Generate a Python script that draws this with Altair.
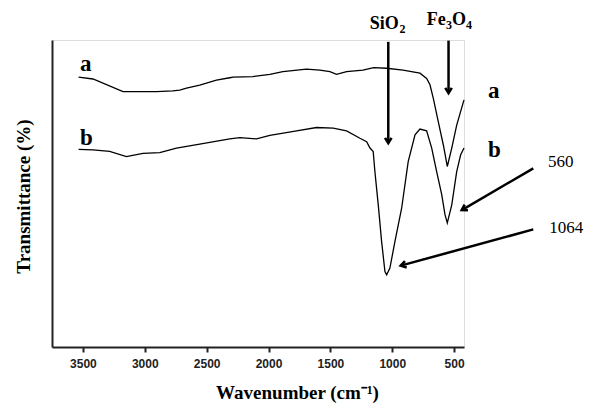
import math
import altair as alt
import pandas as pd

# ---- spectra (wavenumber cm-1, transmittance in arbitrary % units) ----
a_wn = [3535, 3419, 3176, 2906, 2774, 2718, 2663, 2556, 2421, 2313, 2286, 2127, 1989, 1884, 1693,
        1585, 1504, 1450, 1369, 1237, 1150, 1045, 913, 776, 722, 695, 668, 628, 587, 555, 519, 479, 420]
a_t = [87.9, 87.3, 83.2, 83.2, 83.4, 83.7, 84.3, 85.3, 86.9, 87.7, 87.9, 88.1, 88.8, 89.7, 90.5,
       90.2, 89.7, 88.8, 89.7, 90.2, 91.0, 90.8, 90.2, 89.2, 87.5, 85.4, 81.0, 73.4, 65.8, 58.8, 64.8, 72.3, 80.5]

b_wn = [3535, 3419, 3284, 3149, 3015, 2879, 2744, 2556, 2313, 2232, 2097, 1989, 1773, 1612, 1477,
        1369, 1261, 1207, 1180, 1154, 1140, 1113, 1086, 1059, 1045, 1019, 978, 924, 871, 816,
        776, 722, 681, 641, 600, 574, 555, 519, 479, 447, 420]
b_t = [64.4, 64.2, 63.7, 62.0, 63.1, 63.3, 64.8, 66.1, 67.8, 68.2, 67.8, 68.9, 70.4, 71.5, 71.3,
       70.4, 68.0, 66.9, 64.8, 63.7, 57.1, 46.3, 34.4, 24.6, 23.5, 25.7, 34.4, 45.2, 60.4, 69.1,
       71.0, 70.4, 64.8, 57.1, 49.6, 43.2, 40.4, 46.3, 57.1, 62.6, 64.8]

x_ticks = [3500, 3000, 2500, 2000, 1500, 1000, 500]
X_DOMAIN = [3750, 420]
Y_DOMAIN = [0, 100]
W, H = 412, 307

# ---- annotations (in data units) ----
curve_label_text = ["a", "b", "a", "b"]
curve_label_wn = [3524, 3524, 226, 226]
curve_label_t = [90.0, 65.8, 81.2, 62.0]

big_text = ["SiO", "Fe", "O"]
big_wn = [1182, 721, 517]
big_t = [103.6, 104.9, 104.9]
sub_text = ["2", "3", "4"]
sub_wn = [941, 565, 404]
sub_t = [102.4, 103.7, 103.7]

peak_text = ["560", "1064"]
peak_wn = [-259, -270]
peak_t = [58.7, 37.0]

arrow_wn = [1032, 545, -140, -140]
arrow_t = [99.4, 99.8, 58.2, 38.3]
arrow_wn2 = [1032, 545, 438, 931]
arrow_t2 = [66.4, 82.7, 44.6, 26.5]

# ---- tables ----
spec = pd.concat([
    pd.DataFrame({"series": "a", "wn": a_wn, "t": a_t, "i": range(len(a_wn))}),
    pd.DataFrame({"series": "b", "wn": b_wn, "t": b_t, "i": range(len(b_wn))}),
])

px_per_wn = W / (X_DOMAIN[0] - X_DOMAIN[1])
px_per_t = H / (Y_DOMAIN[1] - Y_DOMAIN[0])
angles = []
for w1, t1, w2, t2 in zip(arrow_wn, arrow_t, arrow_wn2, arrow_t2):
    dx = (w1 - w2) * px_per_wn
    dy = (t1 - t2) * px_per_t
    angles.append(math.degrees(math.atan2(dy, dx)) % 360)
arrows = pd.DataFrame({"wn": arrow_wn, "t": arrow_t, "wn2": arrow_wn2, "t2": arrow_t2, "ang": angles})

labels = pd.DataFrame({"txt": curve_label_text, "wn": curve_label_wn, "t": curve_label_t})
bigs = pd.DataFrame({"txt": big_text, "wn": big_wn, "t": big_t})
subs = pd.DataFrame({"txt": sub_text, "wn": sub_wn, "t": sub_t})
peaks = pd.DataFrame({"txt": peak_text, "wn": peak_wn, "t": peak_t})

xs = alt.Scale(domain=X_DOMAIN, nice=False, zero=False)
ys = alt.Scale(domain=Y_DOMAIN, nice=False, zero=False)

x_axis = alt.Axis(
    values=x_ticks, format="d", title="Wavenumber (cm⁻¹)",
    labelFont="Liberation Sans", labelFontWeight="bold", labelFontSize=12, labelColor="#222",
    labelPadding=6, tickSize=5, tickWidth=2, tickColor="#222",
    domainWidth=2, domainColor="#222", grid=False,
    titleFont="Liberation Serif", titleFontWeight="bold", titleFontSize=19, titleColor="#000",
    titleBaseline="alphabetic", titleY=51, titleX=245,
)
y_axis = alt.Axis(
    title="Transmittance (%)", ticks=False, labels=False, grid=False,
    domainWidth=2, domainColor="#222",
    titleFont="Liberation Serif", titleFontWeight="bold", titleFontSize=19, titleColor="#000",
    titleBaseline="alphabetic", titleX=-23, titleY=156, titleAngle=270,
)

lines = alt.Chart(spec).mark_line(color="black", strokeWidth=1.3).encode(
    x=alt.X("wn:Q", scale=xs, axis=x_axis),
    y=alt.Y("t:Q", scale=ys, axis=y_axis),
    detail="series:N",
    order="i:Q",
)

shafts = alt.Chart(arrows).mark_rule(color="black", strokeWidth=2.5).encode(
    x="wn:Q", y="t:Q", x2="wn2:Q", y2="t2:Q"
)
heads = alt.Chart(arrows).mark_point(
    shape="M-1,-0.62L0,0L-1,0.62", filled=False, stroke="black", strokeWidth=2.6,
    size=110, opacity=1, strokeJoin="miter",
).encode(x="wn2:Q", y="t2:Q", angle=alt.Angle("ang:Q", scale=None))

lbl = alt.Chart(labels).mark_text(
    font="Liberation Serif", fontWeight="bold", fontSize=23, align="left", baseline="alphabetic", color="black"
).encode(x="wn:Q", y="t:Q", text="txt:N")

big = alt.Chart(bigs).mark_text(
    font="Liberation Serif", fontWeight="bold", fontSize=18, align="left", baseline="alphabetic", color="black"
).encode(x="wn:Q", y="t:Q", text="txt:N")
sub = alt.Chart(subs).mark_text(
    font="Liberation Serif", fontWeight="bold", fontSize=12, align="left", baseline="alphabetic", color="black"
).encode(x="wn:Q", y="t:Q", text="txt:N")
pk = alt.Chart(peaks).mark_text(
    font="Liberation Serif", fontSize=17, align="left", baseline="alphabetic", color="black"
).encode(x="wn:Q", y="t:Q", text="txt:N")

chart = alt.layer(lines, shafts, heads, lbl, big, sub, pk).properties(
    width=W, height=H,
    autosize=alt.AutoSizeParams(type="none"),
    padding={"left": 44, "top": 32, "right": 128, "bottom": 60},
).configure_view(stroke=None).configure(background="white")

chart.save("out.html", embed_options={"renderer": "svg", "actions": False})
